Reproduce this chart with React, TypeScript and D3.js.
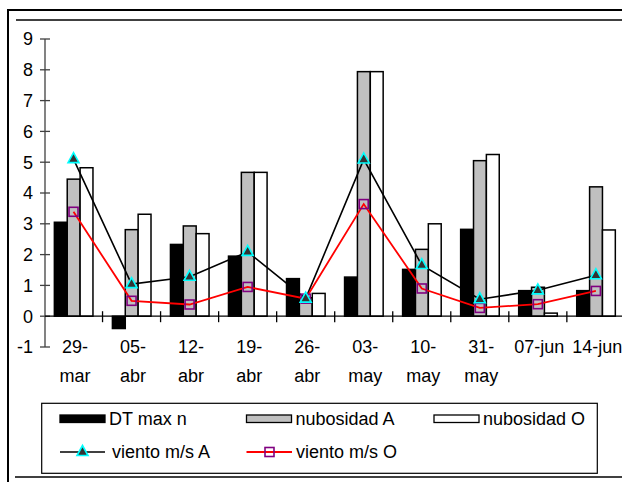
import React from "react";
import * as d3 from "d3";

// Weekly series, spring period
const categories = ["29-mar", "05-abr", "12-abr", "19-abr", "26-abr", "03-may", "10-may", "31-may", "07-jun", "14-jun"];
const tickLabels: string[][] = [
  ["29-", "mar"], ["05-", "abr"], ["12-", "abr"], ["19-", "abr"], ["26-", "abr"],
  ["03-", "may"], ["10-", "may"], ["31-", "may"], ["07-jun"], ["14-jun"],
];
const dtMax = [3.05, -0.4, 2.33, 1.95, 1.22, 1.27, 1.52, 2.82, 0.83, 0.83];
const nubosidadA = [4.45, 2.81, 2.93, 4.67, 0.6, 7.94, 2.17, 5.05, 0.94, 4.2];
const nubosidadO = [4.82, 3.31, 2.68, 4.67, 0.74, 7.94, 3.0, 5.25, 0.1, 2.8];
const vientoA = [5.1, 1.04, 1.28, 2.09, 0.57, 5.09, 1.66, 0.55, 0.84, 1.33];
const vientoO = [3.39, 0.5, 0.38, 0.95, 0.57, 3.64, 0.9, 0.27, 0.39, 0.82];
const yTicks = [-1, 0, 1, 2, 3, 4, 5, 6, 7, 8, 9];

const barSeries = [
  { name: "DT max n", values: dtMax, fill: "#000000" },
  { name: "nubosidad A", values: nubosidadA, fill: "#c0c0c0" },
  { name: "nubosidad O", values: nubosidadO, fill: "#ffffff" },
];

const FONT = "'Liberation Sans', Arial, sans-serif";

const triPath = "M0,-6.5L5.5,3.5L-5.5,3.5Z";

function Triangle({ x, y }: { x: number; y: number }) {
  return (
    <path d={triPath} transform={`translate(${x},${y})`} fill="#333333" stroke="#00ffff" strokeWidth={1.6} />
  );
}

function Square({ x, y }: { x: number; y: number }) {
  return (
    <rect x={x - 4.5} y={y - 4.5} width={9} height={9} fill="none" stroke="#800080" strokeWidth={1.6} />
  );
}

export default function App() {
  const W = 622;
  const H = 482;

  const x = d3.scaleBand<string>().domain(categories).range([44.5, 624.9]).paddingInner(0).paddingOuter(0);
  const bw = x.bandwidth();
  const sub = d3
    .scaleBand<string>()
    .domain(barSeries.map((s) => s.name))
    .range([bw * 0.17, bw * 0.835])
    .padding(0);
  const y = d3.scaleLinear().domain([-1, 9]).range([347, 39]);
  const y0 = y(0);
  const cx = (c: string) => (x(c) as number) + bw / 2;

  const line = d3
    .line<number>()
    .x((_, i) => cx(categories[i]))
    .y((v) => y(v));

  const boundaries = d3.range(categories.length + 1).map((i) => 44.5 + i * bw);

  return (
    <svg
      width={W}
      height={H}
      style={{ position: "absolute", left: 0, top: 0, background: "#fff" }}
      fontFamily={FONT}
    >
      <rect x={0} y={0} width={W} height={H} fill="#ffffff" />
      {/* chart frame */}
      <line x1={8} y1={10} x2={W} y2={10} stroke="#000" strokeWidth={2} />
      <line x1={8} y1={9} x2={8} y2={H} stroke="#000" strokeWidth={2} />
      <line x1={16} y1={20} x2={W} y2={20} stroke="#404040" strokeWidth={2} />
      <line x1={15} y1={477} x2={W} y2={477} stroke="#000" strokeWidth={1.5} />

      {/* bars */}
      {barSeries.map((s) =>
        s.values.map((v, i) => {
          const bx = (x(categories[i]) as number) + (sub(s.name) as number);
          const top = Math.min(y(v), y0);
          const h = Math.abs(y(v) - y0);
          return (
            <rect
              key={s.name + i}
              x={bx}
              y={top}
              width={sub.bandwidth()}
              height={h}
              fill={s.fill}
              stroke="#000"
              strokeWidth={1.5}
            />
          );
        })
      )}

      {/* y axis */}
      <line x1={45} y1={y(9)} x2={45} y2={y(-1)} stroke="#404040" strokeWidth={1.3} />
      {yTicks.map((t) => (
        <g key={t}>
          <line x1={40} y1={y(t)} x2={50} y2={y(t)} stroke="#404040" strokeWidth={1.3} />
          <text x={33} y={y(t)} dy="0.36em" textAnchor="end" fontSize={18} fill="#000">
            {t}
          </text>
        </g>
      ))}

      {/* zero line and category ticks */}
      <line x1={45} y1={y0} x2={W} y2={y0} stroke="#000" strokeWidth={1.3} />
      {boundaries.slice(1).map((bx, i) => (
        <line key={i} x1={bx} y1={y0 - 5} x2={bx} y2={y0 + 6} stroke="#000" strokeWidth={1.3} />
      ))}
      {categories.map((c, i) => (
        <text key={c} x={cx(c) + 1.5} textAnchor="middle" fontSize={18} fill="#000">
          {tickLabels[i].map((ln, j) => (
            <tspan key={j} x={cx(c) + 1.5} y={353 + j * 29}>
              {ln}
            </tspan>
          ))}
        </text>
      ))}

      {/* wind lines */}
      <path d={line(vientoA) as string} fill="none" stroke="#000" strokeWidth={1.6} />
      <path d={line(vientoO) as string} fill="none" stroke="#ff0000" strokeWidth={1.8} />
      {vientoO.map((v, i) => (
        <Square key={"o" + i} x={cx(categories[i])} y={y(v)} />
      ))}
      {vientoA.map((v, i) => (
        <Triangle key={"a" + i} x={cx(categories[i])} y={y(v)} />
      ))}

      {/* legend */}
      <rect x={41.7} y={403.3} width={555.6} height={70} fill="#fff" stroke="#000" strokeWidth={1.2} />
      {barSeries.map((s, i) => {
        const sx = [60, 246.5, 434][i];
        return (
          <g key={s.name}>
            <rect x={sx} y={415} width={45} height={7.5} fill={s.fill} stroke="#000" strokeWidth={1.3} />
            <text x={sx + 49} y={419} dy="0.36em" fontSize={18} fill="#000">
              {s.name}
            </text>
          </g>
        );
      })}
      <line x1={60} y1={452} x2={105} y2={452} stroke="#000" strokeWidth={1.6} />
      <Triangle x={82.5} y={452} />
      <text x={112} y={452} dy="0.36em" fontSize={18} fill="#000">
        viento m/s A
      </text>
      <line x1={246.5} y1={452} x2={292} y2={452} stroke="#ff0000" strokeWidth={1.8} />
      <Square x={269.5} y={452} />
      <text x={296} y={452} dy="0.36em" fontSize={18} fill="#000">
        viento m/s O
      </text>
    </svg>
  );
}
